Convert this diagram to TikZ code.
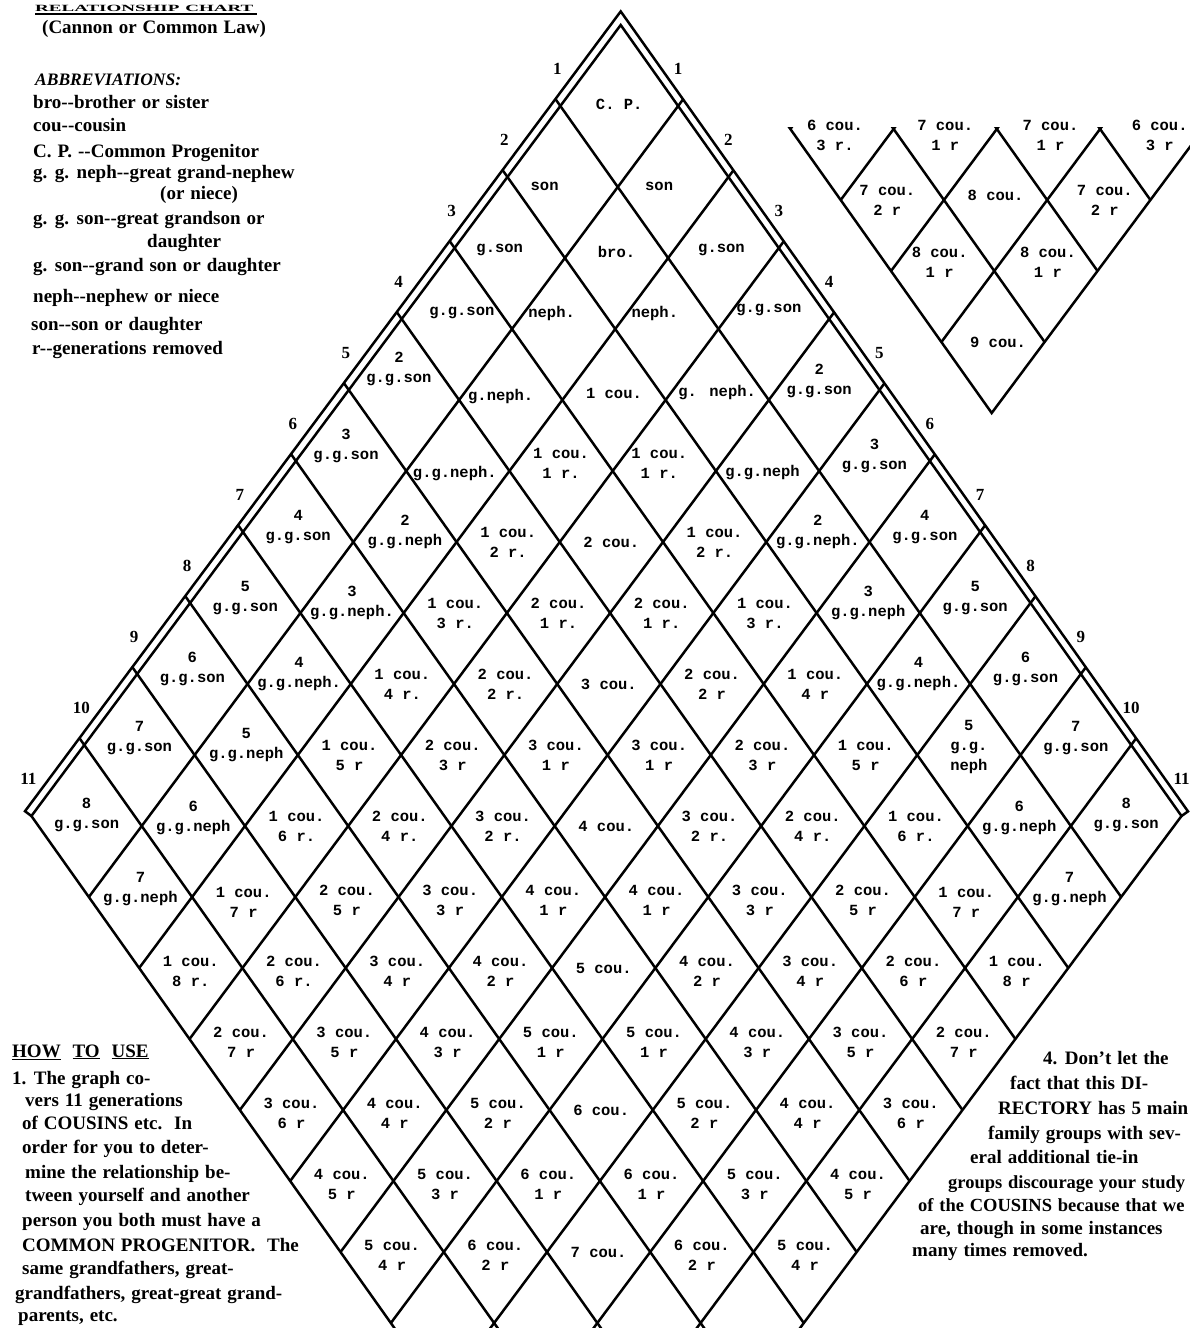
\documentclass[tikz,border=0pt]{standalone}
\usepackage{fontspec}
\setmainfont{Liberation Serif}[WordSpace=1.25]
\newfontfamily\monofnt{Liberation Mono}
\tikzset{
  gl/.style={line width=2.5pt, black, line join=miter},
  ct/.style={font=\monofnt\bfseries\fontsize{15.5}{20}\selectfont, align=center, inner sep=0pt},
  txt/.style={font=\bfseries\fontsize{19}{23}\selectfont, anchor=base west, inner sep=0pt},
  txts/.style={font=\bfseries\fontsize{18.5}{23}\selectfont, anchor=base west, inner sep=0pt},
  enum/.style={font=\bfseries\fontsize{17}{20}\selectfont, inner sep=0pt},
}
\newcommand\cellpos[2]{%
  \pgfmathsetmacro\uc{(71*#1+10*min(#1,1)+71*(#1+1)+10)/2}%
  \pgfmathsetmacro\vc{(71*#2+10*min(#2,1)+71*(#2+1)+10)/2}%
  \pgfmathsetmacro\cx{620.7+0.709*\vc-0.745*\uc}%
  \pgfmathsetmacro\cy{25+\uc+\vc}%
}
\newcommand\cl[5]{\cellpos{#1}{#2}\node[ct] (c#1-#2) at ({\cx+(#3)},{\cy+(#4)}) {#5};}
\newcommand\icl[5]{\cellpos{#1}{#2}\node[ct] (i#1-#2) at ({\cx+399.5+(#3)},{\cy-1194+(#4)}) {#5};}
\newcommand\drawgrid{%
  \draw[gl] (620.7,25) -- (31.4,816) -- (592.2,1607) -- (1181.5,816) -- cycle;
  \foreach \a in {1,...,10} {
    \pgfmathsetmacro\ua{71*\a+10}
    \draw[gl] ({620.7-0.709*6.9-0.745*\ua},{25+\ua-6.9}) -- ({620.7+0.709*791-0.745*\ua},{25+\ua+791});
    \draw[gl] ({620.7+0.709*\ua+0.745*6.7},{25+\ua-6.7}) -- ({620.7+0.709*\ua-0.745*791},{25+\ua+791});
  }%
}
\begin{document}
\begin{tikzpicture}[x=1pt,y=-1pt]
\useasboundingbox (0,0) rectangle (1190,1328);
\fill[white] (0,0) rectangle (1190,1328);

% main grid
\begin{scope}
  \clip (0,0) rectangle (1190,1328);
  \drawgrid
\end{scope}
% outer parallel line of the double edge
\draw[gl] (31.4,816) -- (25.0,811.2) -- (620.7,11.4) -- (1188,811.4) -- (1181.5,816);

% inset (bottom tip of the chart)
\begin{scope}
  \clip (700,127) rectangle (1190,440);
  \begin{scope}[shift={(399.5,-1194)}]
    \drawgrid
  \end{scope}
\end{scope}

% edge numbers
\foreach \a in {1,...,11} {
  \pgfmathsetmacro\ua{71*\a+10}
  \node[enum] (l\a) at ({620.7-0.745*\ua-3},{25+\ua-37}) {\a};
  \node[enum] (r\a) at ({620.7+0.709*\ua},{25+\ua-37}) {\a};
}

% cells
\cl{0}{0}{0}{-2}{C. P.}
\cl{1}{0}{-18}{4}{son}
\cl{0}{1}{-14}{4}{son}
\cl{2}{0}{-10}{-3}{g.son}
\cl{1}{1}{0}{-6}{bro.}
\cl{0}{2}{-2}{-3}{g.son}
\cl{3}{0}{5}{-11}{g.g.son}
\cl{2}{1}{-12}{-16}{neph.}
\cl{1}{2}{-12}{-16}{neph.}
\cl{0}{3}{-5}{-14}{g.g.son}
\cl{4}{0}{-5}{-26}{2\\g.g.son}
\cl{3}{1}{-10}{-3}{g.neph.}
\cl{2}{2}{0}{-7}{1 cou.}
\cl{1}{3}{0}{-7}{g. neph.}
\cl{0}{4}{-5}{-14}{2\\g.g.son}
\cl{5}{0}{-5}{-20}{3\\g.g.son}
\cl{4}{1}{-3}{3}{g.g.neph.}
\cl{3}{2}{0}{-8}{1 cou.\\1 r.}
\cl{2}{3}{-5}{-8}{1 cou.\\1 r.}
\cl{1}{4}{-5}{2}{g.g.neph}
\cl{0}{5}{0}{-10}{3\\g.g.son}
% level 6
\cl{6}{0}{0}{-10}{4\\g.g.son}
\cl{5}{1}{0}{-10}{2\\g.g.neph}
\cl{4}{2}{0}{0}{1 cou.\\2 r.}
\cl{3}{3}{0}{0}{2 cou.}
\cl{2}{4}{0}{0}{1 cou.\\2 r.}
\cl{1}{5}{0}{-10}{2\\g.g.neph.}
\cl{0}{6}{0}{-10}{4\\g.g.son}
% level 7
\cl{7}{0}{0}{-10}{5\\g.g.son}
\cl{6}{1}{0}{-10}{3\\g.g.neph.}
\cl{5}{2}{0}{0}{1 cou.\\3 r.}
\cl{4}{3}{0}{0}{2 cou.\\1 r.}
\cl{3}{4}{0}{0}{2 cou.\\1 r.}
\cl{2}{5}{0}{0}{1 cou.\\3 r.}
\cl{1}{6}{0}{-10}{3\\g.g.neph}
\cl{0}{7}{0}{-10}{5\\g.g.son}
% level 8
\cl{8}{0}{0}{-10}{6\\g.g.son}
\cl{7}{1}{0}{-10}{4\\g.g.neph.}
\cl{6}{2}{0}{0}{1 cou.\\4 r.}
\cl{5}{3}{0}{0}{2 cou.\\2 r.}
\cl{4}{4}{0}{0}{3 cou.}
\cl{3}{5}{0}{0}{2 cou.\\2 r}
\cl{2}{6}{0}{0}{1 cou.\\4 r}
\cl{1}{7}{0}{-10}{4\\g.g.neph.}
\cl{0}{8}{0}{-10}{6\\g.g.son}
% level 9
\cl{9}{0}{0}{-12}{7\\g.g.son}
\cl{8}{1}{0}{-10}{5\\g.g.neph}
\cl{7}{2}{0}{0}{1 cou.\\5 r}
\cl{6}{3}{0}{0}{2 cou.\\3 r}
\cl{5}{4}{0}{0}{3 cou.\\1 r}
\cl{4}{5}{0}{0}{3 cou.\\1 r}
\cl{3}{6}{0}{0}{2 cou.\\3 r}
\cl{2}{7}{0}{0}{1 cou.\\5 r}
\cl{1}{8}{0}{-8}{5\\g.g.\\neph}
\cl{0}{9}{0}{-12}{7\\g.g.son}
% level 10
\cl{10}{0}{0}{-6}{8\\g.g.son}
\cl{9}{1}{0}{-8}{6\\g.g.neph}
\cl{8}{2}{0}{0}{1 cou.\\6 r.}
\cl{7}{3}{0}{0}{2 cou.\\4 r.}
\cl{6}{4}{0}{0}{3 cou.\\2 r.}
\cl{5}{5}{0}{0}{4 cou.}
\cl{4}{6}{0}{0}{3 cou.\\2 r.}
\cl{3}{7}{0}{0}{2 cou.\\4 r.}
\cl{2}{8}{0}{0}{1 cou.\\6 r.}
\cl{1}{9}{0}{-8}{6\\g.g.neph}
\cl{0}{10}{0}{-6}{8\\g.g.son}
% level 11
\cl{10}{1}{0}{-8}{7\\g.g.neph}
\cl{9}{2}{0}{5}{1 cou.\\7 r}
\cl{8}{3}{0}{3}{2 cou.\\5 r}
\cl{7}{4}{0}{3}{3 cou.\\3 r}
\cl{6}{5}{0}{3}{4 cou.\\1 r}
\cl{5}{6}{0}{3}{4 cou.\\1 r}
\cl{4}{7}{0}{3}{3 cou.\\3 r}
\cl{3}{8}{0}{3}{2 cou.\\5 r}
\cl{2}{9}{0}{5}{1 cou.\\7 r}
\cl{1}{10}{0}{-8}{7\\g.g.neph}
% level 12
\cl{10}{2}{0}{3}{1 cou.\\8 r.}
\cl{9}{3}{0}{3}{2 cou.\\6 r.}
\cl{8}{4}{0}{3}{3 cou.\\4 r}
\cl{7}{5}{0}{3}{4 cou.\\2 r}
\cl{6}{6}{0}{0}{5 cou.}
\cl{5}{7}{0}{3}{4 cou.\\2 r}
\cl{4}{8}{0}{3}{3 cou.\\4 r}
\cl{3}{9}{0}{3}{2 cou.\\6 r}
\cl{2}{10}{0}{3}{1 cou.\\8 r}
% level 13
\cl{10}{3}{0}{3}{2 cou.\\7 r}
\cl{9}{4}{0}{3}{3 cou.\\5 r}
\cl{8}{5}{0}{3}{4 cou.\\3 r}
\cl{7}{6}{0}{3}{5 cou.\\1 r}
\cl{6}{7}{0}{3}{5 cou.\\1 r}
\cl{5}{8}{0}{3}{4 cou.\\3 r}
\cl{4}{9}{0}{3}{3 cou.\\5 r}
\cl{3}{10}{0}{3}{2 cou.\\7 r}
% level 14
\cl{10}{4}{0}{3}{3 cou.\\6 r}
\cl{9}{5}{0}{3}{4 cou.\\4 r}
\cl{8}{6}{0}{3}{5 cou.\\2 r}
\cl{7}{7}{0}{0}{6 cou.}
\cl{6}{8}{0}{3}{5 cou.\\2 r}
\cl{5}{9}{0}{3}{4 cou.\\4 r}
\cl{4}{10}{0}{3}{3 cou.\\6 r}
% level 15
\cl{10}{5}{0}{3}{4 cou.\\5 r}
\cl{9}{6}{0}{3}{5 cou.\\3 r}
\cl{8}{7}{0}{3}{6 cou.\\1 r}
\cl{7}{8}{0}{3}{6 cou.\\1 r}
\cl{6}{9}{0}{3}{5 cou.\\3 r}
\cl{5}{10}{0}{3}{4 cou.\\5 r}
% level 16
\cl{10}{6}{0}{3}{5 cou.\\4 r}
\cl{9}{7}{0}{3}{6 cou.\\2 r}
\cl{8}{8}{0}{0}{7 cou.}
\cl{7}{9}{0}{3}{6 cou.\\2 r}
\cl{6}{10}{0}{3}{5 cou.\\4 r}

% inset cells
\icl{10}{7}{-7}{6}{6 cou.\\3 r.}
\icl{9}{8}{0}{6}{7 cou.\\1 r}
\icl{8}{9}{2}{6}{7 cou.\\1 r}
\icl{7}{10}{8}{6}{6 cou.\\3 r}
\icl{10}{8}{-5}{0}{7 cou.\\2 r}
\icl{9}{9}{0}{-5}{8 cou.}
\icl{8}{10}{6}{0}{7 cou.\\2 r}
\icl{10}{9}{-3}{-9}{8 cou.\\1 r}
\icl{9}{10}{2}{-9}{8 cou.\\1 r}
\icl{10}{10}{5}{0}{9 cou.}

% top-left block
\node[txt, yscale=0.5] (title) at (35,11) {RELATIONSHIP CHART};
\draw[line width=1.8pt] (35,14) -- (257,14);
\node[txt] (law) at (42,33) {(Cannon or Common Law)};
\node[txt, font=\bfseries\itshape\fontsize{17.5}{21}\selectfont] (abbr) at (35,85) {ABBREVIATIONS:};
\node[txt] (a1) at (33,108) {bro-{}-brother or sister};
\node[txt] (a2) at (33,131) {cou-{}-cousin};
\node[txt] (a3) at (33,157) {C. P. -{}-Common Progenitor};
\node[txt] (a4) at (33,178) {g. g. neph-{}-great grand-nephew};
\node[txt] (a4b) at (160,199) {(or niece)};
\node[txt] (a5) at (33,224) {g. g. son-{}-great grandson or};
\node[txt] (a5b) at (147,247) {daughter};
\node[txt] (a6) at (33,271) {g. son-{}-grand son or daughter};
\node[txt] (a7) at (33,302) {neph-{}-nephew or niece};
\node[txt] (a8) at (31,330) {son-{}-son or daughter};
\node[txt] (a9) at (32,354) {r-{}-generations removed};

% how to use
\node[txt] (h0) at (12,1057) {\underline{HOW}~~\underline{TO}~~\underline{USE}};
\node[txt] (h1) at (12,1084) {1. The graph co-};
\node[txt] (h2) at (25,1106) {vers 11 generations};
\node[txt] (h3) at (22,1129) {of COUSINS etc.~~In};
\node[txt] (h4) at (22,1153) {order for you to deter-};
\node[txt] (h5) at (25,1178) {mine the relationship be-};
\node[txt] (h6) at (25,1201) {tween yourself and another};
\node[txt] (h7) at (22,1226) {person you both must have a};
\node[txt] (h8) at (22,1251) {COMMON PROGENITOR.~~The};
\node[txt] (h9) at (22,1274) {same grandfathers, great-};
\node[txt] (h10) at (15,1299) {grandfathers, great-great grand-};
\node[txt] (h11) at (18,1321) {parents, etc.};

% note 4
\node[txt] (n1) at (1043,1064) {4. Don't let the};
\node[txt] (n2) at (1010,1089) {fact that this DI-};
\node[txt] (n3) at (998,1114) {RECTORY has 5 main};
\node[txt] (n4) at (988,1139) {family groups with sev-};
\node[txt] (n5) at (970,1163) {eral additional tie-in};
\node[txts] (n6) at (948,1188) {groups discourage your study};
\node[txts] (n7) at (918,1211) {of the COUSINS because that we};
\node[txt] (n8) at (920,1234) {are, though in some instances};
\node[txt] (n9) at (912,1256) {many times removed.};
\end{tikzpicture}
\end{document}
